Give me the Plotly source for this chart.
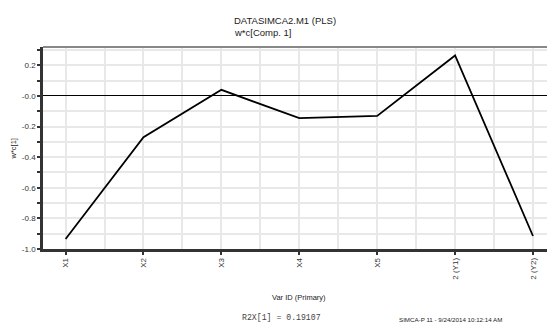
import plotly.graph_objects as go

categories = ["X1", "X2", "X3", "X4", "X5", "2 (Y1)", "2 (Y2)"]
wc_values = [-0.935, -0.27, 0.04, -0.145, -0.13, 0.265, -0.915]
y_tick_vals = [-1.0, -0.8, -0.6, -0.4, -0.2, 0.0, 0.2]
y_tick_text = ["-1.0", "-0.8", "-0.6", "-0.4", "-0.2", "-0.0", "0.2"]
y_minor_vals = [-0.9, -0.7, -0.5, -0.3, -0.1, 0.1, 0.3]

idx = list(range(len(categories)))
half_idx = [i + 0.5 for i in range(-1, len(categories))]

W, H = 547, 324
L, R, T, B = 43, 0, 47, 75
pw = W - L - R
ph = H - T - B

def px(x):
    return (x - L) / pw

def py(y):
    return (H - B - y) / ph

FONT = "Liberation Sans, Arial, sans-serif"
GRID = "#e8e8e8"

fig = go.Figure()
fig.add_trace(go.Scatter(x=idx, y=wc_values, mode="lines",
                         line=dict(color="black", width=1.8),
                         showlegend=False, hoverinfo="skip", cliponaxis=True))

fig.update_layout(
    width=W, height=H,
    margin=dict(l=L, r=R, t=T, b=B, pad=0),
    paper_bgcolor="white", plot_bgcolor="white",
    font=dict(family=FONT, size=8, color="#222"),
    showlegend=False,
)

fig.update_xaxes(
    range=[-0.29, 6.18],
    tickmode="array", tickvals=idx, ticktext=categories, tickangle=-90,
    ticks="outside", ticklen=3, tickwidth=1.5, tickcolor="#333",
    tickfont=dict(size=8, family=FONT, color="#333"),
    showgrid=True, gridcolor=GRID, gridwidth=1.5,
    minor=dict(tickvals=half_idx, showgrid=True, gridcolor=GRID, gridwidth=1.5, ticks=""),
    showline=True, linecolor="#333", linewidth=2.5,
    zeroline=False,
)

fig.update_yaxes(
    range=[-1.0, 0.32],
    tickmode="array", tickvals=y_tick_vals, ticktext=y_tick_text,
    ticks="outside", ticklen=3, tickwidth=1.5, tickcolor="#333",
    tickfont=dict(size=8, family=FONT, color="#333"),
    showgrid=True, gridcolor=GRID, gridwidth=1.5,
    minor=dict(tickvals=y_minor_vals, showgrid=True, gridcolor=GRID, gridwidth=1.5,
               ticks="outside", ticklen=3, tickwidth=1.5, tickcolor="#333"),
    showline=True, linecolor="#333", linewidth=2.5,
    zeroline=True, zerolinecolor="black", zerolinewidth=1,
)

# top frame line
fig.add_shape(type="line", xref="paper", yref="paper", x0=0, x1=1, y0=1, y1=1,
              line=dict(color="#888", width=2))

ann = [
    dict(text="DATASIMCA2.M1 (PLS)", x=px(231.5), y=py(20.7), xanchor="left", yanchor="middle",
         font=dict(size=9.5, family=FONT, color="#222")),
    dict(text="w*c[Comp. 1]", x=px(231.5), y=py(32.3), xanchor="left", yanchor="middle",
         font=dict(size=9.5, family=FONT, color="#222")),
    dict(text="w*c[1]", x=px(12.5), y=py(149), xanchor="center", yanchor="middle", textangle=-90,
         font=dict(size=7.5, family=FONT, color="#222")),
    dict(text="Var ID (Primary)", x=px(298.5), y=py(297.7), xanchor="center", yanchor="middle",
         font=dict(size=7.5, family=FONT, color="#222")),
    dict(text="R2X[1] = 0.19107", x=px(281.2), y=py(317.7), xanchor="center", yanchor="middle",
         font=dict(size=8.2, family="Liberation Mono, Courier New, monospace", color="#444")),
    dict(text="SIMCA-P 11 - 9/24/2014 10:12:14 AM", x=px(397), y=py(319.3), xanchor="left", yanchor="middle",
         font=dict(size=6.2, family=FONT, color="#222")),
]
for a in ann:
    fig.add_annotation(xref="paper", yref="paper", showarrow=False, **a)

fig.write_html("out.html", config={"displayModeBar": False},
               post_script="document.body.style.margin='0';document.body.style.overflow='hidden';")
